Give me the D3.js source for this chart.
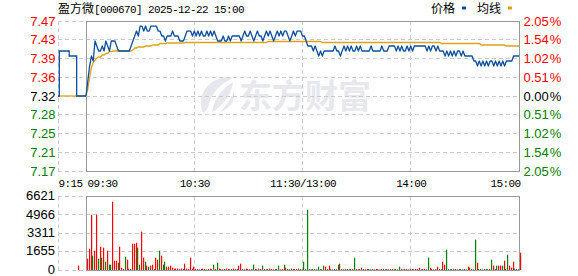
<!DOCTYPE html>
<html><head><meta charset="utf-8">
<script src="https://cdn.jsdelivr.net/npm/d3@7"></script>
<style>body{margin:0;background:#fff}svg{display:block}</style>
</head><body><svg id="c" width="578" height="276"></svg>
<script>
// ---------- data ----------
const title = "盈方微[000670] 2025-12-22 15:00";
const legendNames = ["价格", "均线"];
const watermark = "东方财富";
const prevClose = 7.32;
const pctMax = 2.05;
const priceLabels = ["7.47","7.43","7.39","7.36","7.32","7.28","7.25","7.21","7.17"];
const pctLabels = ["2.05%","1.54%","1.02%","0.51%","0.00%","0.51%","1.02%","1.54%","2.05%"];
const volLabels = [6621, 4966, 3311, 1655, 0];
const timeTicks = [0, 60, 120, 180, 240];
const timeLabels = ["09:30", "10:30", "11:30/13:00", "14:00", "15:00"];
const preLabel = "9:15";
// pre-market (minutes after 9:15)
const preTimes = [0, 0.7, 6, 10, 15];
const prePrice = [7.32, 7.41, 7.40, 7.32, 7.32];
const preAvgTimes = [0.7, 15];
const preAvg = [7.32, 7.32];
const preVolTimes = [10];
const preVol = [390];
const preVolColor = ["r"];

// one value per minute, 09:30..11:30 then 13:01..15:00
const price = [
7.32,7.35,7.38,7.40,7.39,7.43,7.42,7.41,7.41,7.42,
7.41,7.43,7.42,7.41,7.43,7.43,7.43,7.42,7.41,7.41,
7.41,7.41,7.41,7.41,7.41,7.42,7.43,7.44,7.45,7.44,
7.46,7.46,7.45,7.46,7.45,7.45,7.46,7.46,7.46,7.46,
7.45,7.45,7.44,7.44,7.43,7.44,7.44,7.44,7.45,7.44,
7.44,7.44,7.43,7.43,7.43,7.44,7.45,7.45,7.45,7.44,
7.45,7.44,7.45,7.44,7.45,7.44,7.44,7.45,7.44,7.45,
7.44,7.45,7.44,7.43,7.43,7.43,7.44,7.43,7.43,7.44,
7.43,7.44,7.44,7.44,7.44,7.44,7.43,7.44,7.45,7.44,
7.44,7.45,7.44,7.43,7.44,7.45,7.44,7.44,7.43,7.44,
7.45,7.44,7.45,7.44,7.43,7.44,7.45,7.44,7.45,7.44,
7.45,7.45,7.44,7.43,7.44,7.45,7.44,7.45,7.45,7.45,
7.44,
7.44,7.43,7.42,7.42,7.42,7.41,7.42,7.41,7.40,7.41,
7.40,7.41,7.41,7.41,7.41,7.41,7.41,7.42,7.41,7.41,
7.40,7.41,7.42,7.41,7.42,7.41,7.42,7.41,7.41,7.42,
7.41,7.42,7.41,7.41,7.41,7.41,7.41,7.42,7.41,7.41,
7.41,7.41,7.41,7.42,7.41,7.41,7.41,7.42,7.42,7.42,
7.42,7.41,7.42,7.41,7.42,7.41,7.41,7.42,7.41,7.42,
7.41,7.42,7.42,7.42,7.42,7.42,7.42,7.42,7.41,7.42,
7.41,7.42,7.42,7.41,7.42,7.41,7.41,7.41,7.40,7.41,
7.40,7.41,7.40,7.41,7.40,7.41,7.41,7.40,7.41,7.40,
7.40,7.40,7.40,7.40,7.39,7.39,7.38,7.39,7.38,7.39,
7.38,7.39,7.38,7.39,7.39,7.38,7.39,7.38,7.39,7.38,
7.39,7.38,7.39,7.39,7.39,7.39,7.40,7.40,7.40,7.40
];
const avg = [
7.320,7.334,7.357,7.377,7.387,7.392,7.396,7.398,7.398,7.402,
7.402,7.405,7.405,7.409,7.409,7.410,7.410,7.410,7.410,7.410,
7.410,7.410,7.410,7.410,7.410,7.410,7.412,7.416,7.416,7.418,
7.418,7.418,7.418,7.420,7.420,7.420,7.420,7.422,7.422,7.422,
7.422,7.425,7.425,7.425,7.425,7.426,7.426,7.426,7.426,7.426,
7.426,7.426,7.426,7.426,7.426,7.427,7.427,7.427,7.427,7.427,
7.427,7.427,7.427,7.427,7.427,7.427,7.427,7.427,7.427,7.427,
7.427,7.427,7.427,7.427,7.427,7.427,7.427,7.427,7.427,7.427,
7.427,7.427,7.427,7.427,7.427,7.427,7.427,7.427,7.427,7.427,
7.427,7.427,7.427,7.427,7.427,7.427,7.427,7.427,7.427,7.427,
7.427,7.429,7.429,7.429,7.429,7.429,7.429,7.429,7.429,7.429,
7.429,7.429,7.429,7.429,7.429,7.429,7.429,7.429,7.429,7.429,
7.429,7.429,7.429,7.429,7.429,7.429,7.429,7.429,7.429,7.429,
7.429,7.427,7.427,7.427,7.427,7.427,7.427,7.427,7.427,7.427,
7.427,7.427,7.427,7.427,7.427,7.427,7.427,7.427,7.427,7.427,
7.427,7.427,7.427,7.427,7.427,7.427,7.427,7.427,7.427,7.427,
7.427,7.427,7.427,7.427,7.427,7.427,7.427,7.427,7.427,7.427,
7.427,7.427,7.427,7.427,7.427,7.427,7.427,7.427,7.427,7.427,
7.427,7.427,7.427,7.427,7.427,7.427,7.427,7.427,7.427,7.427,
7.427,7.427,7.427,7.427,7.427,7.427,7.427,7.425,7.425,7.425,
7.425,7.425,7.425,7.425,7.425,7.425,7.425,7.425,7.425,7.425,
7.425,7.425,7.425,7.425,7.425,7.425,7.425,7.425,7.425,7.422,
7.422,7.422,7.422,7.422,7.422,7.422,7.422,7.422,7.422,7.422,
7.422,7.422,7.422,7.420,7.420,7.420,7.420,7.420,7.420,7.420,
7.420
];
const volume = [
1020,1920,4980,1290,1740,4980,1020,2100,1110,2010,
750,1740,480,480,6150,840,840,660,2100,210,
90,1200,930,120,90,2370,2370,2460,2010,480,
3450,1110,750,390,300,390,480,90,1110,930,
1740,1290,480,750,300,300,390,210,120,120,
120,90,120,90,570,120,90,1110,120,300,
90,
90,60,90,120,90,60,90,120,60,480,
90,660,120,90,60,90,120,90,60,90,
120,90,90,390,570,90,60,120,90,60,
90,480,90,60,120,90,390,90,60,90,
120,90,60,90,90,390,60,90,480,210,
90,60,120,90,60,90,120,90,60,750,
90,5430,90,60,90,90,60,300,90,60,
390,300,90,390,90,60,90,60,480,570,
90,60,90,90,60,90,90,1110,90,60,
90,210,90,60,90,90,60,90,60,90,
90,60,90,90,60,90,60,90,90,60,
90,60,300,90,60,90,90,60,90,90,
60,90,90,210,60,90,90,60,1110,210,
90,60,90,300,90,60,750,480,1830,90,
90,60,90,90,60,90,90,60,90,60,
300,210,90,60,2730,660,90,90,60,90,
90,60,90,930,390,90,390,390,390,390,
840,90,1380,390,210,750,120,90,60,1560
];
const volColor = (
"rrrgrrgrgr"+"grggrrrgrr"+"rgrrgrrrgg"+"rrgrgrrgrr"+"grggrrrrrr"+"rrrrrrrrrr"+"r"+
"rrgrrgrrrg"+"rgrrrgrrgr"+"rrgrrgrrrg"+"rgrrrrgrgr"+"rgrrggrrgr"+"rgrrgrrgrg"+
"gggrggrggr"+"grrrgrgrrg"+"grrgrgrgrr"+"grgrrgrrgr"+"rgrrgrrrgr"+"rggrrgrrgr"+
"grrrgrrggr"+"rrgrrgrrgg"+"grgrgrggrg"+"rrgrgrgggr"+"ggrgrrgrrg"+"rggrrrgrgr"
).split("");

// ---------- drawing ----------
const svg = d3.select("#c");
const C = { red: "#ff0000", green: "#008000", black: "#000000", grid: "#cccccc",
            frame: "#999999", price: "#0d4f9e", avg: "#e0a21e", wm: "#e7e7ee" };
const latin = "'Liberation Sans', Arial, sans-serif";
const mono = "'Liberation Mono', 'Noto Sans CJK SC', monospace";
const cjk = "'Noto Sans CJK SC', sans-serif";
const px = v => Math.floor(v) + 0.5;

const x = d3.scaleLinear().domain([0, 240]).range([86, 519]);
const xPre = d3.scaleLinear().domain([0, 15]).range([58, 86]);
const y = d3.scaleLinear().domain([prevClose * (1 - pctMax / 100), prevClose * (1 + pctMax / 100)]).range([171, 21]);
const yv = d3.scaleLinear().domain([0, volLabels[0]]).range([270, 196.5]);
const priceTickVals = d3.range(9).map(k => prevClose * (1 + pctMax / 100 * (4 - k) / 4));

// watermark
const wmg = svg.append("g").attr("fill", C.wm);
wmg.append("path").attr("d",
  "M203,113 C198,100 203,86 216,80 C224,76 231,77 233,78 C222,83 212,92 209,104 C208,108 207,111 203,113 Z" +
  "M212,112 C214,99 221,89 233,82 C232,92 226,101 219,107 C217,109 214,111 212,112 Z" +
  "M220,112 C225,106 231,100 234,91 C235,101 230,109 220,112 Z");
wmg.append("text").attr("x", 239).attr("y", 108).attr("font-family", cjk)
  .attr("font-weight", "bold").attr("font-size", 33).text(watermark);

// grid - main panel
const grid = svg.append("g").attr("stroke", C.grid).attr("stroke-dasharray", "4,3").attr("fill", "none");
priceTickVals.forEach(v => {
  grid.append("line").attr("x1", xPre(0)).attr("x2", x(240)).attr("y1", px(y(v))).attr("y2", px(y(v)));
});
grid.append("line").attr("x1", px(xPre(0))).attr("x2", px(xPre(0))).attr("y1", y.range()[1]).attr("y2", y.range()[0]);
timeTicks.slice(1, 4).forEach(t => {
  grid.append("line").attr("x1", px(x(t))).attr("x2", px(x(t))).attr("y1", y.range()[1]).attr("y2", y.range()[0]);
});
// grid - volume panel
volLabels.forEach(v => {
  grid.append("line").attr("x1", xPre(0)).attr("x2", x(240)).attr("y1", px(yv(v))).attr("y2", px(yv(v)));
});
grid.append("line").attr("x1", px(xPre(0))).attr("x2", px(xPre(0))).attr("y1", yv.range()[1]).attr("y2", yv.range()[0]);
timeTicks.slice(1, 4).forEach(t => {
  grid.append("line").attr("x1", px(x(t))).attr("x2", px(x(t))).attr("y1", yv.range()[1]).attr("y2", yv.range()[0]);
});

// frames
svg.append("rect").attr("x", px(x(0))).attr("y", px(y.range()[1]))
  .attr("width", Math.floor(x(240)) - Math.floor(x(0))).attr("height", Math.floor(y.range()[0]) - Math.floor(y.range()[1]))
  .attr("fill", "none").attr("stroke", C.frame);
svg.append("rect").attr("x", px(x(0))).attr("y", px(yv.range()[1]))
  .attr("width", Math.floor(x(240)) - Math.floor(x(0))).attr("height", Math.floor(yv.range()[0]) - Math.floor(yv.range()[1]))
  .attr("fill", "none").attr("stroke", C.frame);

// volume bars
const vcol = c => c === "r" ? C.red : C.green;
svg.append("g").selectAll("rect").data(volume).join("rect")
  .attr("x", (d, i) => Math.round(x(i) + 0.9))
  .attr("width", 1.2)
  .attr("y", d => yv(d))
  .attr("height", d => yv(0) - yv(d))
  .attr("fill", (d, i) => vcol(volColor[i]));
svg.append("g").selectAll("rect").data(preVol).join("rect")
  .attr("x", (d, i) => Math.round(xPre(preVolTimes[i]) + 0.9))
  .attr("width", 1.2)
  .attr("y", d => yv(d))
  .attr("height", d => yv(0) - yv(d))
  .attr("fill", (d, i) => vcol(preVolColor[i]));

// lines
const lineMain = d3.line().x((d, i) => x(i)).y(d => y(d));
svg.append("path").attr("d", d3.line().x((d, i) => xPre(preAvgTimes[i])).y(d => y(d))(preAvg))
  .attr("fill", "none").attr("stroke", C.avg).attr("stroke-width", 1.3);
svg.append("path").attr("d", lineMain(avg)).attr("fill", "none").attr("stroke", C.avg).attr("stroke-width", 1.3);
svg.append("path").attr("d", d3.line().curve(d3.curveStepAfter).x((d, i) => xPre(preTimes[i])).y(d => y(d))(prePrice))
  .attr("fill", "none").attr("stroke", C.price).attr("stroke-width", 1.3);
svg.append("path").attr("d", lineMain(price)).attr("fill", "none").attr("stroke", C.price).attr("stroke-width", 1.3)
  .attr("stroke-linejoin", "round");

// axes
const labelColor = i => i < 4 ? C.red : (i === 4 ? C.black : C.green);
function styleAxis(g) {
  g.select(".domain").remove();
  g.selectAll(".tick line").remove();
  g.attr("font-family", latin).attr("font-size", 13);
}
const ax1 = svg.append("g").attr("transform", "translate(55.5,0)")
  .call(d3.axisLeft(y).tickValues(priceTickVals).tickFormat((d, i) => priceLabels[i]).tickSize(0).tickPadding(0))
  .call(styleAxis);
ax1.selectAll(".tick text").attr("fill", (d, i) => labelColor(i));
const ax2 = svg.append("g").attr("transform", "translate(523.5,0)")
  .call(d3.axisRight(y).tickValues(priceTickVals).tickFormat((d, i) => pctLabels[i]).tickSize(0).tickPadding(0))
  .call(styleAxis);
ax2.selectAll(".tick text").attr("fill", (d, i) => labelColor(i))
  .each(function (d, i) {
    const t = d3.select(this), s = pctLabels[i];
    t.text(null);
    t.append("tspan").text(s.slice(0, -1));
    t.append("tspan").attr("dx", 1).text(s.slice(-1));
  });
const ax3 = svg.append("g").attr("transform", "translate(55,0)")
  .call(d3.axisLeft(yv).tickValues(volLabels).tickFormat(d => String(d)).tickSize(0).tickPadding(0))
  .call(styleAxis);
ax3.selectAll(".tick text").attr("fill", C.black).attr("dy", "0.25em");

function styleTime(g) {
  g.select(".domain").remove();
  g.selectAll(".tick line").remove();
  g.attr("font-family", mono).attr("font-size", 11);
  g.selectAll(".tick text").attr("fill", C.black).attr("letter-spacing", "-0.6px");
}
const ax4 = svg.append("g").attr("transform", "translate(0,171)")
  .call(d3.axisBottom(x).tickValues(timeTicks).tickFormat((d, i) => timeLabels[i]).tickSize(0).tickPadding(8))
  .call(styleTime);
ax4.selectAll(".tick text").attr("text-anchor", (d, i) => i === 0 ? "start" : (i === timeTicks.length - 1 ? "end" : "middle"))
  .attr("dx", (d, i) => i === 0 ? 1 : (i === timeTicks.length - 1 ? 1 : 0));
const ax5 = svg.append("g").attr("transform", "translate(0,171)")
  .call(d3.axisBottom(xPre).tickValues([0]).tickFormat(() => preLabel).tickSize(0).tickPadding(8))
  .call(styleTime);
ax5.selectAll(".tick text").attr("text-anchor", "start");

// title (CJK part 12px, latin part mono)
const tt = svg.append("text").attr("x", 58).attr("y", 13).attr("fill", C.black);
title.split(/([\u3400-\u9fff]+)/).filter(s => s.length).forEach(s => {
  const isC = /[\u3400-\u9fff]/.test(s);
  tt.append("tspan").text(s)
    .attr("font-family", isC ? cjk : mono)
    .attr("font-size", isC ? 12 : 11)
    .attr("letter-spacing", isC ? "0px" : "-0.6px");
});

// legend
const lg = svg.append("g").attr("font-family", cjk).attr("font-size", 12).attr("fill", C.black);
lg.append("text").attr("x", 431).attr("y", 13).text(legendNames[0]);
svg.append("rect").attr("x", 462).attr("y", 6.5).attr("width", 4).attr("height", 3).attr("fill", C.price);
lg.append("text").attr("x", 477).attr("y", 13).text(legendNames[1]);
svg.append("rect").attr("x", 508).attr("y", 6.5).attr("width", 4).attr("height", 3).attr("fill", C.avg);
</script>
</body></html>
